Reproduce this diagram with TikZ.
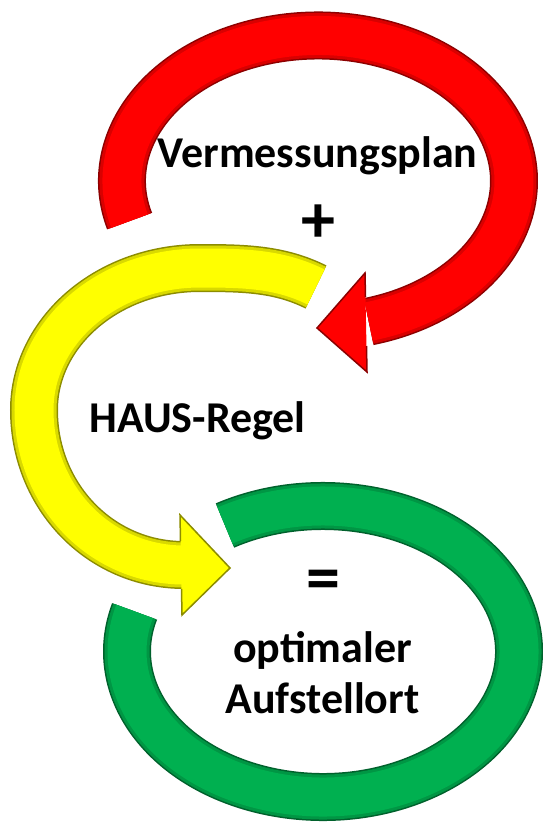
\documentclass[tikz,border=0pt]{standalone}
\usepackage{fontspec}
\setmainfont{Carlito}
\definecolor{cred}{RGB}{255,0,0}
\definecolor{cyellow}{RGB}{255,255,0}
\definecolor{cgreen}{RGB}{0,176,80}
\begin{document}
\begin{tikzpicture}[x=1pt,y=-1pt,
  band/.style={line width=48, draw=#1!55!black,
    postaction={draw=#1!85!black, line width=45},
    postaction={draw=#1, line width=39}},
  headfill/.style={fill=#1},
  headedge/.style={draw=#1!55!black, line width=1.5, line join=miter},
  lbl/.style={font=\fontsize{44}{52}\selectfont\bfseries, text=black, inner sep=0pt},
  sym/.style={font=\fontsize{68}{70}\selectfont\bfseries, text=black, inner sep=0pt}]
\useasboundingbox (0,0) rectangle (543,824);

% ---- red arrow
\coordinate (rc) at (318,181);
\draw[band=cred] (rc) ++(164:196 and 145.5)
  arc[start angle=164, end angle=435, x radius=196, y radius=145.5];
\coordinate (rb1) at (365,273);
\coordinate (rtip) at (317,328);
\coordinate (rb2) at (367,372);
\coordinate (re1) at (365.5,297);
\coordinate (re2) at (366.5,346);
\fill[headfill=cred] (rb1) -- (rtip) -- (rb2) -- cycle;
\draw[headedge=cred] (re1) -- (rb1) -- (rtip) -- (rb2) -- (re2);

% ---- yellow arrow
\coordinate (ys) at (316,287);
\coordinate (ytop) at (200,268);
\coordinate (yleft) at (34,410);
\coordinate (ye) at (184,565);
\draw[band=cyellow] (ys) .. controls (280,269) and (245,268) .. (ytop)
  .. controls (108,268) and (34,332) .. (yleft)
  .. controls (34,496) and (100,565) .. (ye);
\coordinate (yb1) at (180,515);
\coordinate (ytip) at (230,568);
\coordinate (yb2) at (182,615);
\coordinate (ye1) at (180.5,541);
\coordinate (ye2) at (181.5,589);
\fill[headfill=cyellow] (yb1) -- (ytip) -- (yb2) -- cycle;
\draw[headedge=cyellow] (ye1) -- (yb1) -- (ytip) -- (yb2) -- (ye2);

% ---- green ring
\coordinate (gc) at (323,651.5);
\draw[band=cgreen] (gc) ++(240:196 and 145.5)
  arc[start angle=240, end angle=556, x radius=196, y radius=145.5];

% ---- texts
\node[lbl, anchor=base] (vp) at (317.5,167) {Vermessungsplan};
\node[sym] (plus) at (318,224) {+};
\node[lbl, anchor=base] (haus) at (197.5,432) {HAUS-Regel};
\node[sym] (eq) at (323,585) {=};
\node[lbl, anchor=base] (opt) at (322.5,662) {optimaler};
\node[lbl, anchor=base] (auf) at (322.5,713) {Aufstellort};
\end{tikzpicture}
\end{document}
